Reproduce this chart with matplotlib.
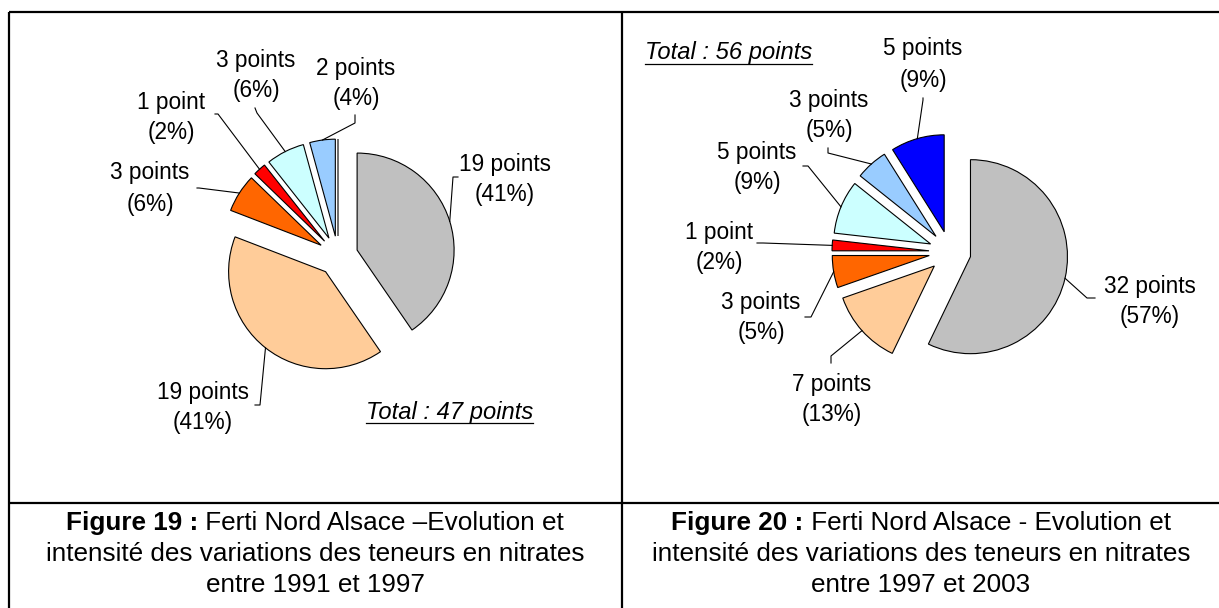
import matplotlib
matplotlib.use("Agg")
import numpy as np
import matplotlib.pyplot as plt
from matplotlib.offsetbox import TextArea, HPacker, AnnotationBbox

plt.rcParams['font.family'] = ['Liberation Sans', 'DejaVu Sans']

couleurs = ["#C0C0C0", "#FFCC99", "#FF6600", "#FF0000", "#CCFFFF", "#99CCFF", "#0000FF"]

points_9197 = [19, 19, 3, 1, 3, 2, 0]
pct_9197 = ["41%", "41%", "6%", "2%", "6%", "4%"]

points_9703 = [32, 7, 3, 1, 5, 3, 5]
pct_9703 = ["57%", "13%", "5%", "2%", "9%", "5%", "9%"]

total_9197 = "Total : 47 points"
total_9703 = "Total : 56 points"

legende_19 = ["Figure 19 :", " Ferti Nord Alsace \u2013Evolution et",
              "intensité des variations des teneurs en nitrates", "entre 1991 et 1997"]
legende_20 = ["Figure 20 :", " Ferti Nord Alsace - Evolution et",
              "intensité des variations des teneurs en nitrates", "entre 1997 et 2003"]

W, H = 1219, 608
def Y(py):
    return H - py

fig = plt.figure(figsize=(W / 100, H / 100), dpi=100)
ax = fig.add_axes([0, 0, 1, 1])

# position des étiquettes (centre ligne 1, centre ligne 2) et départ des traits
lbl_pos_9197 = [(505, 165, 195), (203, 392, 422), (150, 173, 205),
                (171, 103, 133), (256, 60, 90), (356, 68, 98)]
lead_9197 = [((458, 177), (453, 177)), ((255, 405), (260, 405)), ((197, 188), (199, 188)),
             ((215, 114), (218, 114)), ((255, 108), (257, 113)), ((355, 115), (355, 123))]

lbl_pos_9703 = [(1150, 287, 316), (832, 385, 415), (761, 303, 333), (719, 232, 262),
                (757, 153, 183), (829, 100, 130), (923, 48, 80)]
lead_9703 = [((1095, 298), (1087, 298)), ((831, 363), (831, 356)), ((805, 317), (811, 317)),
             ((757, 243), (763, 243)), ((803, 166), (808, 166)), ((828, 148), (828, 153)),
             ((923, 98), (923, 100))]


def camembert(valeurs, pcts, centre, expl, lbl_pos, leads):
    wedges, _ = ax.pie(valeurs, colors=couleurs, startangle=90, counterclock=False,
                       radius=97, center=(centre[0], Y(centre[1])), explode=[expl] * len(valeurs),
                       wedgeprops=dict(edgecolor="black", linewidth=0.8), frame=True)
    for i, pct in enumerate(pcts):
        n = valeurs[i]
        txt = f"{n} point" + ("s" if n > 1 else "")
        x, y1, y2 = lbl_pos[i]
        ax.text(x, Y(y1), txt, ha="center", va="center", fontsize=16.3)
        ax.text(x, Y(y2), f"({pct})", ha="center", va="center", fontsize=16.3)
        w = wedges[i]
        a = np.deg2rad((w.theta1 + w.theta2) / 2)
        px = w.center[0] + w.r * np.cos(a)
        py = w.center[1] + w.r * np.sin(a)
        (sx, sy), (ex, ey) = leads[i]
        ax.plot([sx, ex, px], [Y(sy), Y(ey), py], color="black", lw=0.8)


camembert(points_9197, pct_9197, (338, 256), 20, lbl_pos_9197, lead_9197)
camembert(points_9703, pct_9703, (950, 252), 21, lbl_pos_9703, lead_9703)

# totaux en italique souligné
t1 = ax.text(533, Y(412), total_9197, ha="right", va="center", fontsize=17.1, style="italic")
t2 = ax.text(645, Y(53), total_9703, ha="left", va="center", fontsize=17.1, style="italic")

# cadre du tableau
k = dict(color="black", lw=1.6, solid_capstyle="butt")
ax.plot([9, W], [Y(12), Y(12)], **k)
ax.plot([9, 9], [Y(12), 0], **k)
ax.plot([622, 622], [Y(12), 0], **k)
ax.plot([9, W], [Y(503), Y(503)], **k)

# légendes des figures
for leg, cx in [(legende_19, 315), (legende_20, 921)]:
    box = HPacker(children=[TextArea(leg[0], textprops=dict(fontsize=18.8, fontweight="bold")),
                            TextArea(leg[1], textprops=dict(fontsize=18.8))],
                  pad=0, sep=0, align="baseline")
    ax.add_artist(AnnotationBbox(box, (cx, Y(523)), frameon=False, box_alignment=(0.5, 0.5), pad=0))
    ax.text(cx, Y(554), leg[2], ha="center", va="center", fontsize=18.8)
    ax.text(cx, Y(585), leg[3], ha="center", va="center", fontsize=18.8)

ax.set_xlim(0, W)
ax.set_ylim(0, H)
ax.set_aspect("auto")
ax.axis("off")

fig.canvas.draw()
r = fig.canvas.get_renderer()
for t in (t1, t2):
    bb = t.get_window_extent(r)
    ax.plot([bb.x0, bb.x1], [bb.y0 + 1, bb.y0 + 1], color="black", lw=0.9)

fig.savefig("out.png", dpi=100)
